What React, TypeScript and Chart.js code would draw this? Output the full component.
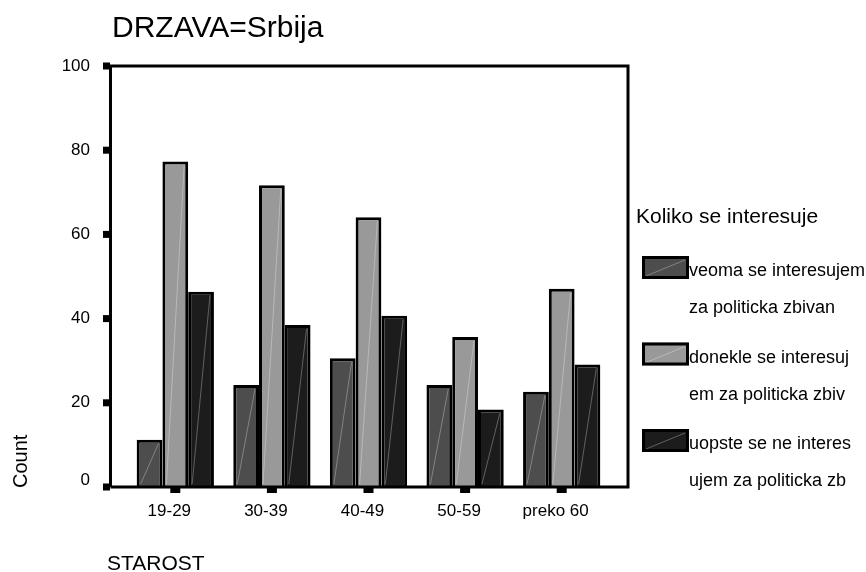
import React, { useEffect, useRef } from 'react';
import { Chart, registerables } from 'chart.js';

Chart.register(...registerables);

const categories = ['19-29', '30-39', '40-49', '50-59', 'preko 60'];
const veoma = [11.2, 24.2, 30.6, 24.2, 22.6];
const donekle = [77.3, 71.7, 64.1, 35.6, 47.1];
const uopste = [46.4, 38.5, 40.7, 18.4, 29.1];
const seriesLines = [
  ['veoma se interesujem', 'za politicka zbivan'],
  ['donekle se interesuj', 'em za politicka zbiv'],
  ['uopste se ne interes', 'ujem za politicka zb'],
];
const seriesColors = ['#4d4d4d', '#999999', '#1c1c1c'];
const yTicks = [0, 20, 40, 60, 80, 100];
const chartTitle = 'DRZAVA=Srbija';
const legendTitle = 'Koliko se interesuje';
const yTitle = 'Count';
const xTitle = 'STAROST';

const FONT = "'Liberation Sans', Arial, sans-serif";

const decorPlugin = {
  id: 'decor',
  afterDatasetsDraw(chart: any) {
    const ctx = chart.ctx;
    ctx.save();
    ctx.strokeStyle = 'rgba(255,255,255,0.3)';
    ctx.lineWidth = 1;
    chart.data.datasets.forEach((_ds: any, di: number) => {
      const meta = chart.getDatasetMeta(di);
      meta.data.forEach((bar: any) => {
        const w = bar.width;
        const x0 = bar.x - w / 2 + 4;
        const x1 = bar.x + w / 2 - 4;
        ctx.beginPath();
        ctx.moveTo(x0, bar.base - 3);
        ctx.lineTo(x1, bar.y + 4);
        ctx.stroke();
      });
    });
    ctx.restore();
  },
  afterDraw(chart: any) {
    const ctx = chart.ctx;
    const xs = chart.scales.x;
    const ys = chart.scales.y;
    const top = ys.getPixelForValue(100);
    const bottom = ys.getPixelForValue(0);
    const left = 110.5;
    const right = 628;
    ctx.save();
    ctx.strokeStyle = '#000';
    ctx.lineWidth = 3;
    ctx.beginPath();
    ctx.moveTo(left, bottom);
    ctx.lineTo(left, top);
    ctx.lineTo(right, top);
    ctx.lineTo(right, bottom);
    ctx.lineTo(left, bottom);
    ctx.stroke();
    ctx.fillStyle = '#000';
    yTicks.forEach((v) => {
      const py = ys.getPixelForValue(v);
      ctx.fillRect(103, py - 3.5, 7, 7);
    });
    categories.forEach((_c, i) => {
      const px = xs.getPixelForValue(i);
      ctx.fillRect(px - 5, bottom, 10, 6);
    });
    ctx.fillStyle = '#000';
    ctx.textBaseline = 'alphabetic';
    ctx.textAlign = 'left';
    ctx.font = `30px ${FONT}`;
    ctx.fillText(chartTitle, 112, 37);
    ctx.font = `21px ${FONT}`;
    ctx.fillText(xTitle, 107, 570);
    ctx.save();
    ctx.translate(27, 488);
    ctx.rotate(-Math.PI / 2);
    ctx.font = `20px ${FONT}`;
    ctx.fillText(yTitle, 0, 0);
    ctx.restore();
    ctx.font = `21px ${FONT}`;
    ctx.fillText(legendTitle, 636, 223);
    ctx.font = `18px ${FONT}`;
    chart.data.datasets.forEach((ds: any, i: number) => {
      const by = 256 + i * 86.5;
      ctx.fillStyle = ds.backgroundColor;
      ctx.fillRect(642, by, 47, 23);
      ctx.strokeStyle = 'rgba(255,255,255,0.3)';
      ctx.lineWidth = 1;
      ctx.beginPath();
      ctx.moveTo(646, by + 20);
      ctx.lineTo(685, by + 4);
      ctx.stroke();
      ctx.strokeStyle = '#000';
      ctx.lineWidth = 3;
      ctx.strokeRect(643.5, by + 1.5, 44, 20);
      ctx.fillStyle = '#000';
      ctx.fillText(seriesLines[i][0], 689, 276 + i * 86.5);
      ctx.fillText(seriesLines[i][1], 689, 313 + i * 86.5);
    });
    ctx.restore();
  },
};

export default function App() {
  const ref = useRef<HTMLCanvasElement | null>(null);
  useEffect(() => {
    if (!ref.current) return;
    const chart = new Chart(ref.current, {
      type: 'bar',
      data: {
        labels: categories,
        datasets: [veoma, donekle, uopste].map((d, i) => ({
          label: seriesLines[i].join(''),
          data: d,
          backgroundColor: seriesColors[i],
          borderColor: '#000',
          borderWidth: 3,
          borderSkipped: 'bottom',
          barPercentage: 1,
          categoryPercentage: 0.8,
        })),
      },
      options: {
        responsive: false,
        animation: false,
        devicePixelRatio: 1,
        layout: { padding: { left: 0, top: 66, right: 256, bottom: 0 } },
        plugins: {
          legend: { display: false },
          title: { display: false },
          tooltip: { enabled: false },
        },
        scales: {
          x: {
            type: 'category',
            offset: true,
            grid: { display: false, drawTicks: false },
            border: { display: false },
            ticks: {
              color: '#000',
              font: { family: FONT, size: 17 },
              padding: 14,
              labelOffset: -6,
              maxRotation: 0,
              autoSkip: false,
            },
            afterFit: (s: any) => {
              s.height = 85;
            },
          },
          y: {
            min: 0,
            max: 100,
            grid: { display: false, drawTicks: false },
            border: { display: false },
            ticks: {
              color: '#000',
              font: { family: FONT, size: 17, lineHeight: 0.8 },
              padding: 37,
              callback: (v: any) => (v === 0 ? ['0', ''] : String(v)),
            },
            afterBuildTicks: (s: any) => {
              s.ticks = yTicks.map((v) => ({ value: v }));
            },
            afterFit: (s: any) => {
              s.width = 127;
            },
          },
        },
      } as any,
      plugins: [decorPlugin],
    });
    return () => chart.destroy();
  }, []);
  return (
    <div style={{ position: 'absolute', left: 0, top: 0, width: 866, height: 572, background: '#fff' }}>
      <canvas ref={ref} width={866} height={572} style={{ display: 'block' }} />
    </div>
  );
}
